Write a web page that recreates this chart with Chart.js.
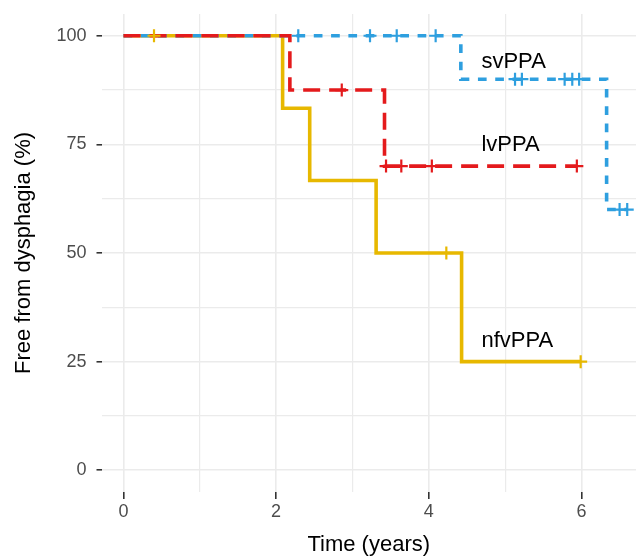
<!DOCTYPE html>
<html>
<head>
<meta charset="utf-8">
<script src="https://cdn.jsdelivr.net/npm/chart.js@4"></script>
<style>
  html, body { margin: 0; padding: 0; background: #ffffff; }
  #wrap { width: 636px; height: 556px; }
</style>
</head>
<body>
<div id="wrap"><canvas id="c" width="636" height="556"></canvas></div>
<script>
// ---- Data ----
const groups = ["nfvPPA", "lvPPA", "svPPA"];
const groupColors = ["#E7B800", "#E41A1C", "#2E9FDF"];

// Kaplan-Meier step curves: time (years) and % free from dysphagia
const nfvTimes = [0, 2.085, 2.44, 3.31, 4.43, 5.99];
const nfvSurv  = [100, 83.3, 66.7, 50, 25, 25];
const lvTimes  = [0, 2.18, 3.42, 5.94];
const lvSurv   = [100, 87.5, 70, 70];
const svTimes  = [0, 4.42, 6.33, 6.60];
const svSurv   = [100, 90, 60, 60];

// Censoring marks
const nfvCensorT = [0.40, 4.23, 5.99];
const nfvCensorS = [100, 50, 25];
const lvCensorT  = [2.86, 3.44, 3.64, 4.04, 5.94];
const lvCensorS  = [87.5, 70, 70, 70, 70];
const svCensorT  = [2.29, 3.23, 3.58, 4.09, 5.13, 5.22, 5.78, 5.88, 5.97, 6.50, 6.60];
const svCensorS  = [100, 100, 100, 100, 90, 90, 90, 90, 90, 60, 60];

// Axis ticks
const xMajorTicks = [0, 2, 4, 6];
const xMinorTicks = [1, 3, 5];
const yMajorTicks = [0, 25, 50, 75, 100];
const yMinorTicks = [12.5, 37.5, 62.5, 87.5];

// In-plot group labels (left x, baseline y in data units)
const labelText = ["svPPA", "lvPPA", "nfvPPA"];
const labelX    = [4.69, 4.69, 4.69];
const labelY    = [92.6, 73.4, 28.35];

const xTitle = "Time (years)";
const yTitle = "Free from dysphagia (%)";

// ---- Build datasets ----
const pts = (t, s) => t.map((v, i) => ({ x: v, y: s[i] }));
const FONT = "'Liberation Sans', Arial, Helvetica, sans-serif";

function stepSet(t, s, color, dash, order) {
  return {
    data: pts(t, s), showLine: true, stepped: true,
    borderColor: color, borderWidth: 3.6, borderDash: dash,
    borderCapStyle: 'butt', borderJoinStyle: 'miter',
    pointRadius: 0, fill: false, order: order
  };
}
function censorSet(t, s, color) {
  return {
    data: pts(t, s), showLine: false,
    pointStyle: 'cross', pointRadius: 6.5, pointBorderWidth: 2.2,
    borderColor: color, backgroundColor: color, order: 0
  };
}

const datasets = [
  censorSet(nfvCensorT, nfvCensorS, groupColors[0]),
  censorSet(lvCensorT, lvCensorS, groupColors[1]),
  censorSet(svCensorT, svCensorS, groupColors[2]),
  stepSet(lvTimes, lvSurv, groupColors[1], [17, 9], 1),
  stepSet(svTimes, svSurv, groupColors[2], [8.7, 8.6], 2),
  stepSet(nfvTimes, nfvSurv, groupColors[0], [], 3)
];

const labelPlugin = {
  id: 'groupLabels',
  afterDatasetsDraw(chart) {
    const ctx = chart.ctx, xs = chart.scales.x, ys = chart.scales.y;
    ctx.save();
    ctx.font = "22px " + FONT;
    ctx.fillStyle = "#000000";
    ctx.textAlign = "left";
    ctx.textBaseline = "alphabetic";
    labelText.forEach((txt, i) => {
      ctx.fillText(txt, xs.getPixelForValue(labelX[i]), ys.getPixelForValue(labelY[i]));
    });
    ctx.restore();
  }
};

const isMajor = (arr, v) => arr.some(m => Math.abs(m - v) < 1e-9);

new Chart(document.getElementById('c'), {
  type: 'scatter',
  data: { datasets },
  plugins: [labelPlugin],
  options: {
    responsive: false,
    animation: false,
    events: [],
    layout: { autoPadding: false, padding: { top: 14, right: 0, left: 0, bottom: 0 } },
    plugins: { legend: { display: false }, tooltip: { enabled: false } },
    scales: {
      x: {
        type: 'linear', min: -0.288, max: 6.715,
        afterBuildTicks: (axis) => {
          axis.ticks = [...xMajorTicks, ...xMinorTicks].sort((a, b) => a - b).map(v => ({ value: v }));
        },
        afterFit: (axis) => {
          axis.height = 64;
          axis.paddingLeft = 0; axis.paddingRight = 0;
          axis.paddingTop = 0; axis.paddingBottom = 0;
        },
        border: { display: false },
        grid: {
          color: '#EBEBEB',
          lineWidth: (c) => isMajor(xMajorTicks, c.tick.value) ? 1.6 : 1.2,
          drawTicks: true, tickLength: 7,
          tickColor: (c) => isMajor(xMajorTicks, c.tick.value) ? '#333333' : 'rgba(0,0,0,0)',
          tickWidth: 1.6
        },
        ticks: {
          autoSkip: false, maxRotation: 0, padding: 2,
          color: '#4D4D4D', font: { family: FONT, size: 18 },
          callback: (v) => isMajor(xMajorTicks, v) ? String(v) : ''
        },
        title: {
          display: true, text: xTitle, color: '#000000',
          font: { family: FONT, size: 22, lineHeight: 1.0 },
          padding: { top: 0, bottom: 0 }
        }
      },
      y: {
        type: 'linear', min: -5, max: 105,
        afterBuildTicks: (axis) => {
          axis.ticks = [...yMajorTicks, ...yMinorTicks].sort((a, b) => a - b).map(v => ({ value: v }));
        },
        afterFit: (axis) => {
          axis.width = 101.5;
          axis.paddingLeft = 0; axis.paddingRight = 0;
          axis.paddingTop = 0; axis.paddingBottom = 0;
        },
        border: { display: false },
        grid: {
          color: '#EBEBEB',
          lineWidth: (c) => isMajor(yMajorTicks, c.tick.value) ? 1.6 : 1.2,
          drawTicks: true, tickLength: 5,
          tickColor: (c) => isMajor(yMajorTicks, c.tick.value) ? '#333333' : 'rgba(0,0,0,0)',
          tickWidth: 1.6
        },
        ticks: {
          autoSkip: false, padding: 10,
          color: '#4D4D4D', font: { family: FONT, size: 18 },
          callback: (v) => isMajor(yMajorTicks, v) ? String(v) : ''
        },
        title: {
          display: true, text: yTitle, color: '#000000',
          font: { family: FONT, size: 22, lineHeight: 1.2 },
          padding: { top: 11, bottom: 0 }
        }
      }
    }
  }
});
</script>
</body>
</html>
